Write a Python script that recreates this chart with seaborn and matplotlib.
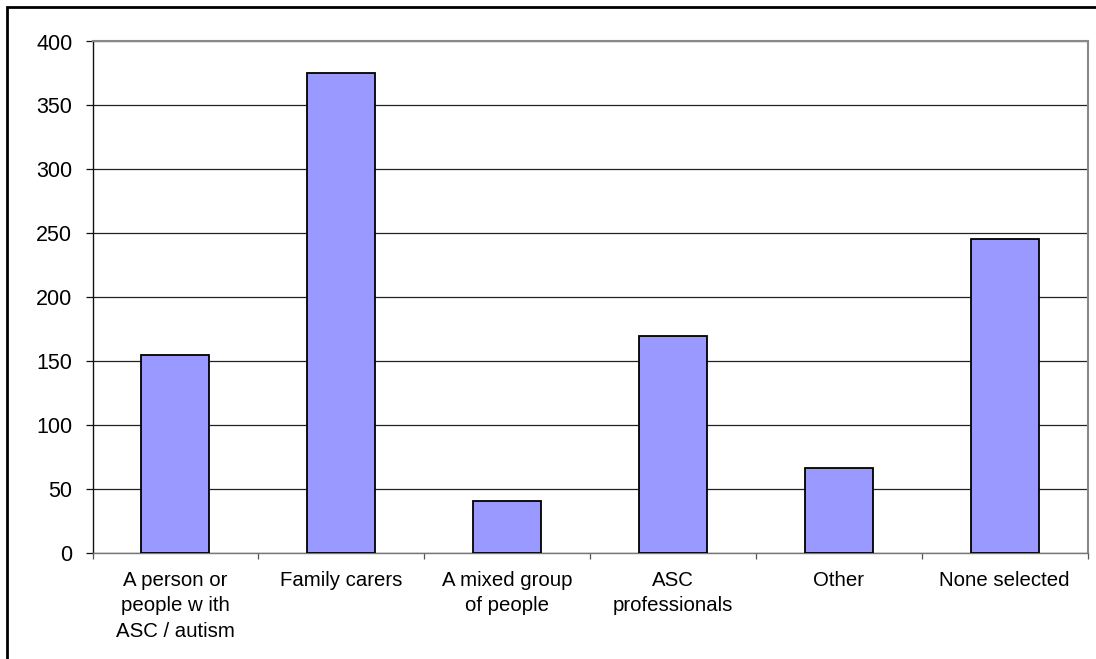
import matplotlib
matplotlib.use("Agg")
import matplotlib.pyplot as plt
from matplotlib.patches import Rectangle
import seaborn as sns
import pandas as pd

# Respondent groups and counts
categories = [
    "A person or\npeople w ith\nASC / autism",
    "Family carers",
    "A mixed group\nof people",
    "ASC\nprofessionals",
    "Other",
    "None selected",
]
counts = [155, 375, 41, 170, 67, 246]
y_ticks = [0, 50, 100, 150, 200, 250, 300, 350, 400]

df = pd.DataFrame({"group": categories, "count": counts})

sns.set_theme(style="white")
plt.rcParams["font.family"] = ["Liberation Sans", "DejaVu Sans"]

fig = plt.figure(figsize=(10.96, 6.59), dpi=100)
ax = fig.add_axes([92.5 / 1096, 105.7 / 659, (1087.5 - 92.5) / 1096, (553.3 - 41.5) / 659])

sns.barplot(data=df, x="group", y="count", color="#9999FF", saturation=1,
            width=0.41, edgecolor="black", linewidth=1.3, ax=ax, zorder=3)

ax.set_xlim(-0.5, len(categories) - 0.5)
ax.set_ylim(0, 400)
ax.set_yticks(y_ticks)
ax.set_yticklabels([str(v) for v in y_ticks], fontsize=15.5)
ax.set_xticks(range(len(categories)))
ax.set_xticklabels(categories, fontsize=14.7, linespacing=1.45, ha="center")
ax.set_xlabel("")
ax.set_ylabel("")

# Horizontal gridlines
ax.yaxis.grid(True, color="#222222", linewidth=0.9)
ax.xaxis.grid(False)
ax.set_axisbelow(True)

# Spines: dark left axis, grey bottom axis and plot-area border
ax.spines["left"].set_color("#111111")
ax.spines["left"].set_linewidth(1.0)
ax.spines["bottom"].set_color("#777777")
ax.spines["bottom"].set_linewidth(1.0)
for side in ("top", "right"):
    ax.spines[side].set_color("#888888")
    ax.spines[side].set_linewidth(1.5)

# Ticks
ax.tick_params(axis="y", direction="out", length=5, width=0.9, color="#111111",
               pad=9.5, labelcolor="black", left=True)
ax.tick_params(axis="x", which="major", length=0, pad=12.5, labelcolor="black")
ax.set_xticks([i - 0.5 for i in range(len(categories) + 1)], minor=True)
ax.tick_params(axis="x", which="minor", direction="out", length=4, width=0.9,
               color="#555555", bottom=True)

# Chart frame around the whole figure
fig.patches.append(Rectangle((7 / 1096, -0.1), 1.2, (659 - 7) / 659 + 0.1,
                             transform=fig.transFigure, fill=False,
                             edgecolor="black", linewidth=2.0))

fig.savefig("out.png", dpi=100, facecolor="white")
